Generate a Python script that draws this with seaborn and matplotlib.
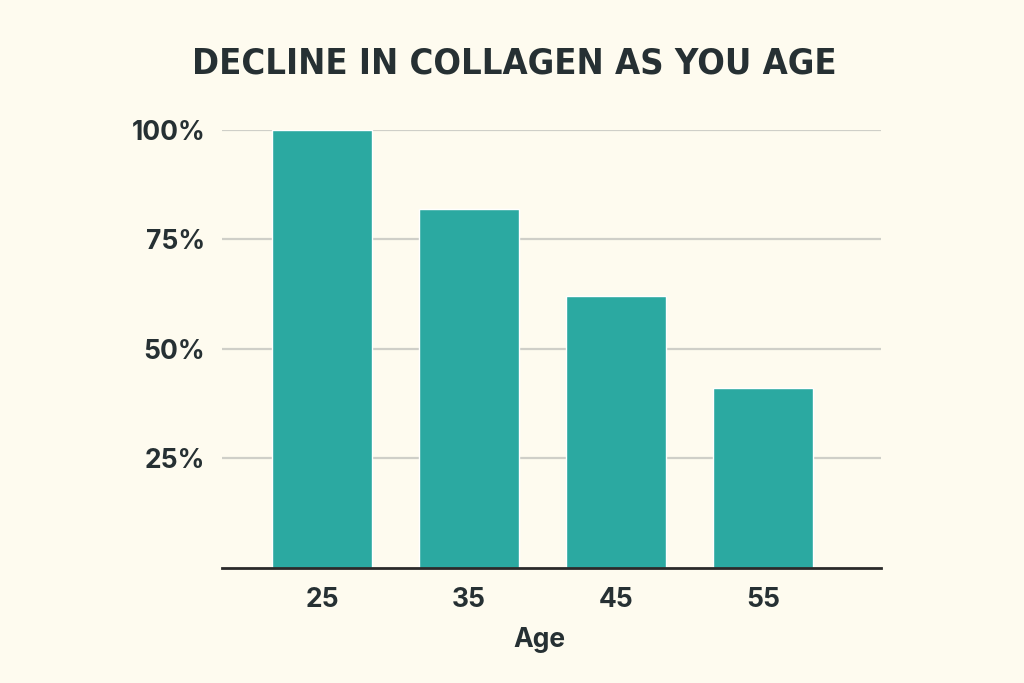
import matplotlib
matplotlib.use("Agg")
import matplotlib.pyplot as plt
import seaborn as sns
import pandas as pd

# data
ages = ["25", "35", "45", "55"]
collagen = [100, 82, 62, 41]
yticks = [25, 50, 75, 100]
ytick_labels = ["25%", "50%", "75%", "100%"]

bg = "#FEFBEF"
teal = "#2BA9A1"
ink = "#263033"

sns.set_theme(style="white")
plt.rcParams["font.family"] = ["Inter", "DejaVu Sans"]

df = pd.DataFrame({"age": ages, "collagen": collagen})

fig = plt.figure(figsize=(10.24, 6.83), dpi=100, facecolor=bg)
ax = fig.add_axes([0.2168, 0.1684, 0.6436, 0.6413])
ax.set_facecolor(bg)

sns.barplot(data=df, x="age", y="collagen", order=ages, color=teal,
            saturation=1, width=0.68, ax=ax, zorder=3)

ax.set_xlim(-0.68, 3.80)
ax.set_ylim(0, 100)
ax.set_yticks(yticks)
ax.set_yticklabels(ytick_labels)
ax.yaxis.grid(True, color="#CFCFC8", linewidth=1.6, zorder=0)
ax.set_axisbelow(True)

for s in ["top", "right", "left"]:
    ax.spines[s].set_visible(False)
ax.spines["bottom"].set_color("#2a2a2a")
ax.spines["bottom"].set_linewidth(2)
ax.spines["bottom"].set_zorder(4)

ax.tick_params(axis="both", length=0, labelsize=19, labelcolor=ink)
ax.tick_params(axis="y", pad=12)
ax.tick_params(axis="x", pad=14)
for lbl in ax.get_xticklabels() + ax.get_yticklabels():
    lbl.set_fontweight(650)

ax.set_ylabel("")
ax.set_xlabel("Age", fontsize=19, fontweight=650, color=ink, labelpad=12)
ax.xaxis.set_label_coords(0.481, -0.135)

fig.text(0.502, 0.907, "DECLINE IN COLLAGEN AS YOU AGE", ha="center", va="center",
         fontsize=26, fontweight="bold", fontstretch="condensed", color=ink,
         family=["DejaVu Sans"])

fig.savefig("out.png", dpi=100, facecolor=bg)
